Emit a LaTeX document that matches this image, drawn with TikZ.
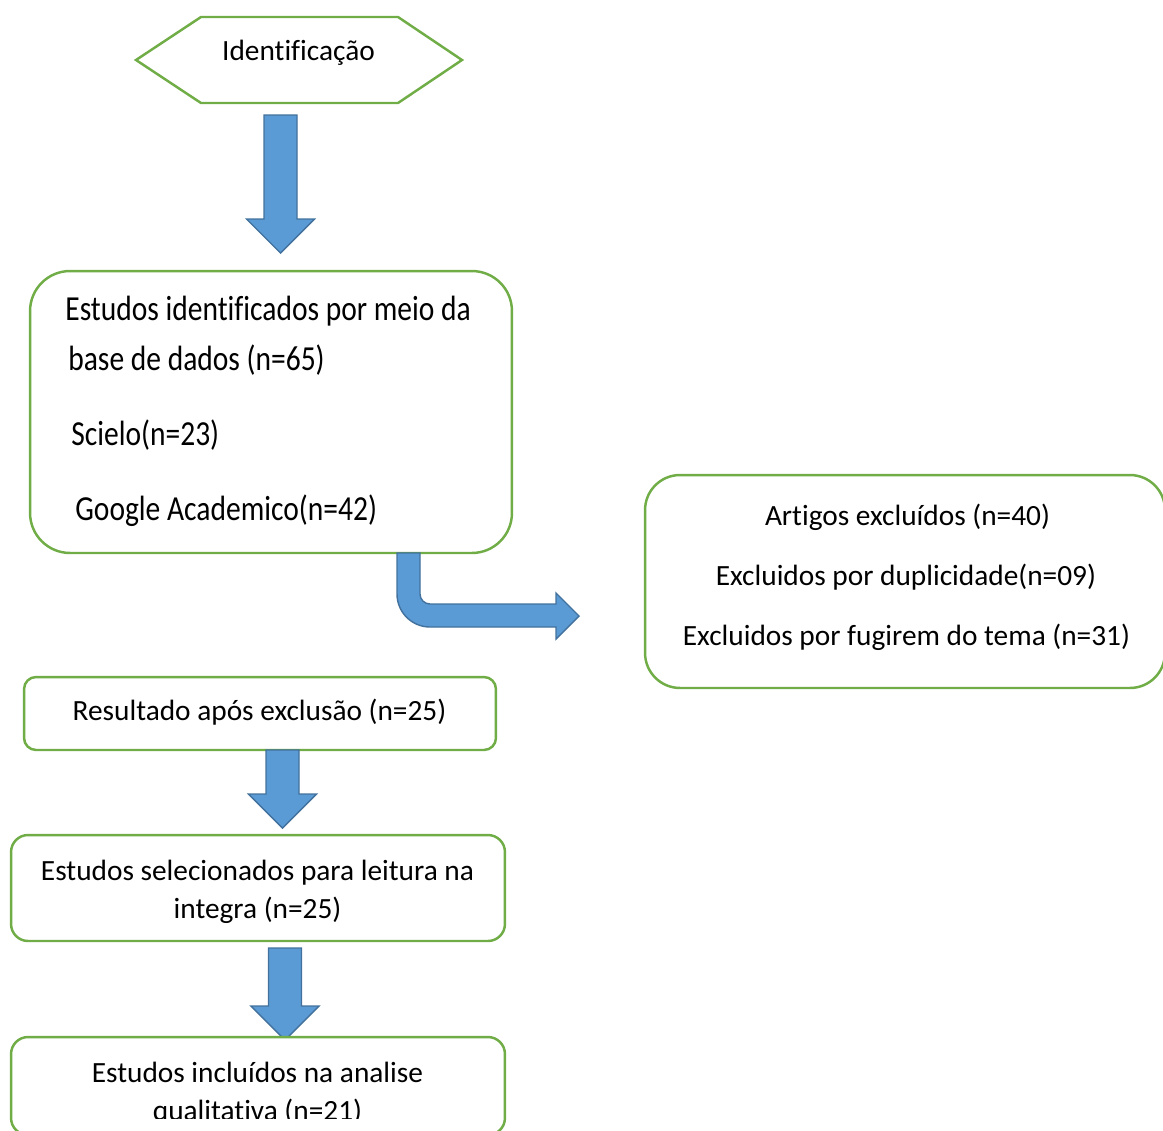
\documentclass[tikz,border=0pt]{standalone}
\usepackage{fontspec}
\setmainfont[Ligatures=NoCommon]{Carlito}
\newfontfamily\narrowfont[FakeStretch=0.84, Ligatures=NoCommon]{Carlito}
\usetikzlibrary{calc}
\definecolor{boxline}{HTML}{70AD47}
\definecolor{arrowfill}{HTML}{5B9BD5}
\definecolor{arrowline}{HTML}{41719C}
\tikzset{
  box/.style={draw=boxline, line width=1.4pt, fill=white, rectangle, inner sep=0pt},
  txt/.style={font=\fontsize{16.7}{20}\selectfont, inner sep=0pt, anchor=base},
  bigtxt/.style={font=\narrowfont\fontsize{20}{24}\selectfont, inner sep=0pt, anchor=base west},
  blockarrow/.style={fill=arrowfill, draw=arrowline, line width=0.8pt, line join=miter},
  downarrow/.style={to path={let \p1=(\tikztostart), \p2=(\tikztotarget) in
    (\x1-0.33cm,\y1) -- (\x1+0.33cm,\y1) -- (\x1+0.33cm,\y2+0.68cm) -- (\x1+0.68cm,\y2+0.68cm)
    -- (\x1,\y2) -- (\x1-0.68cm,\y2+0.68cm) -- (\x1-0.33cm,\y2+0.68cm) -- cycle}}
}
\begin{document}
\begin{tikzpicture}[x=0.02cm, y=-0.02cm]
  \useasboundingbox (0,0) rectangle (1163,1130);

  % Identificacao
  \draw[boxline, line width=1.4pt] (136,60) -- (201,17) -- (398,17) -- (462,60) -- (398,103) -- (201,103) -- cycle;
  \node[txt] (ident) at (298.5,60) {Identificação};

  \coordinate (a1s) at (280.5,115);
  \coordinate (a1e) at (280.5,253);
  \path[blockarrow] (a1s) to[downarrow] (a1e);

  % Estudos identificados
  \node[box, rounded corners=0.8cm, minimum width=9.64cm, minimum height=5.64cm] (estudos) at (271,412) {};
  \node[bigtxt] (linea) at (65,320) {Estudos identificados por meio da};
  \node[bigtxt] (lineb) at (68,370) {base de dados (n=65)};
  \node[bigtxt] (scielo) at (71,445) {Scielo(n=23)};
  \node[bigtxt] (google) at (75,520) {Google Academico(n=42)};

  % Excluidos
  \draw[blockarrow] (397,553) -- (420,553) -- (420,594) arc[start angle=180, end angle=270, radius=0.2cm]
    -- (556,604) -- (556,593) -- (579,616) -- (556,639) -- (556,627) -- (430,627)
    arc[start angle=270, end angle=180, radius=0.66cm] -- cycle;
  \node[box, rounded corners=0.7cm, minimum width=10.4cm, minimum height=4.26cm] (excl) at (905,581.5) {};
  \node[txt] (artigos) at (907.5,525) {Artigos excluídos (n=40)};
  \node[txt] (dupl) at (906,585) {Excluidos por duplicidade(n=09)};
  \node[txt] (tema) at (906.5,645) {Excluidos por fugirem do tema (n=31)};

  % Resultado
  \node[box, rounded corners=0.24cm, minimum width=9.44cm, minimum height=1.46cm] (result) at (260,713.5) {};
  \node[txt] (resulttxt) at (259.5,720) {Resultado após exclusão (n=25)};

  \coordinate (a2s) at (282.5,750);
  \coordinate (a2e) at (282.5,828);
  \path[blockarrow] (a2s) to[downarrow] (a2e);

  % Selecionados
  \node[box, rounded corners=0.34cm, minimum width=9.88cm, minimum height=2.12cm] (selec) at (258,888) {};
  \node[txt] (selectxt) at (257.5,880) {Estudos selecionados para leitura na};
  \node[txt] (selectxtb) at (257.5,918) {integra (n=25)};

  \coordinate (a3s) at (285,948);
  \coordinate (a3e) at (285,1040);
  \path[blockarrow] (a3s) to[downarrow] (a3e);

  % Incluidos
  \node[box, rounded corners=0.34cm, minimum width=9.88cm, minimum height=1.96cm] (incl) at (258,1086) {};
  \begin{scope}
    \clip (0,1030) rectangle (1163,1118);
    \node[txt] (incltxt) at (257.5,1082) {Estudos incluídos na analise};
    \node[txt] (incltxtb) at (257.5,1120) {qualitativa (n=21)};
  \end{scope}
\end{tikzpicture}
\end{document}
